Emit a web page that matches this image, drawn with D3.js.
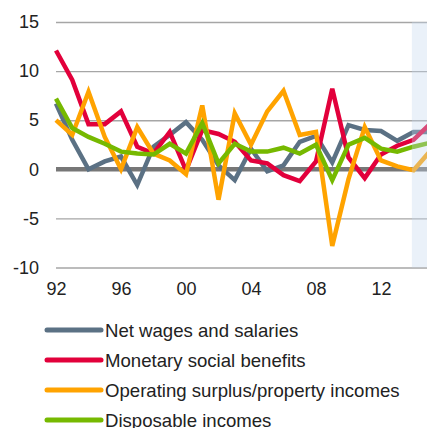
<!DOCTYPE html>
<meta charset="utf-8">
<body style="margin:0">
<div id="div-svg"></div>
<style>
  body { background: #fff; }
  text { font-family: "Liberation Sans", Arial, sans-serif; fill: #222; }
</style>

<script src="https://d3js.org/d3.v7.min.js"></script>
<script>
    var years = d3.range(1992, 2016);
    var yTicks = [15, 10, 5, 0, -5, -10];
    var xTicks = [1992, 1996, 2000, 2004, 2008, 2012];
    var forecastFrom = 2013.9;

    var wages = [6.7, 3.0, 0.0, 0.8, 1.3, -1.6, 2.3, 3.5, 4.8, 3.0, 0.4, -1.1, 2.1, -0.2, 0.4, 2.8, 3.4, 0.7, 4.5, 4.0, 3.9, 2.9, 3.8, 3.8];
    var benefits = [12.1, 9.1, 4.6, 4.6, 5.9, 2.3, 1.6, 3.8, -0.1, 4.0, 3.6, 2.8, 0.9, 0.6, -0.6, -1.2, 0.8, 8.2, 1.2, -0.9, 1.5, 2.4, 3.0, 4.6];
    var surplus = [5.0, 3.5, 7.9, 3.3, 0.0, 4.3, 1.6, 0.9, -0.5, 6.5, -3.1, 5.7, 2.5, 5.9, 8.0, 3.5, 3.8, -7.8, -1.0, 4.3, 0.9, 0.3, -0.1, 1.8];
    var disposable = [7.2, 4.2, 3.3, 2.6, 1.8, 1.6, 1.5, 2.6, 1.6, 4.7, 0.6, 2.6, 1.8, 1.8, 2.2, 1.6, 2.5, -1.1, 2.5, 3.2, 2.1, 1.8, 2.3, 2.7];

    var seriesNames = ["Net wages and salaries", "Monetary social benefits", "Operating surplus/property incomes", "Disposable incomes"];
    var seriesValues = [wages, benefits, surplus, disposable];
    var colors = ["#5b7184", "#e2003b", "#ffa300", "#76b900"];

    var width = 427;
    var height = 428;

    var x = d3.scaleLinear().domain([1992, 2015]).range([56, 429.75]);
    var y = d3.scaleLinear().domain([-10, 15]).range([267.5, 22]);

    var svg = d3.select("#div-svg").append("svg")
        .attr("width", width)
        .attr("height", height);

    // gridlines + y labels
    var yAxis = svg.append("g")
        .attr("transform", "translate(56,0)")
        .call(d3.axisLeft(y).tickValues(yTicks).tickSize(-(width - 56)).tickPadding(17)
            .tickFormat(function(d){ return String(d); }));
    yAxis.select(".domain").remove();
    yAxis.selectAll(".tick line").attr("stroke", "#a6a6a6").attr("stroke-width", 1.4);
    yAxis.selectAll(".tick text").style("font-size", "18px").attr("fill", "#222");

    // zero line
    svg.append("line")
        .attr("x1", 56).attr("x2", width)
        .attr("y1", y(0)).attr("y2", y(0))
        .attr("stroke", "#777").attr("stroke-width", 4.5);

    // x labels
    var xAxis = svg.append("g")
        .attr("transform", "translate(0,282)")
        .call(d3.axisBottom(x).tickValues(xTicks).tickSize(0).tickPadding(0)
            .tickFormat(function(d){ return d3.format("02d")(d % 100); }));
    xAxis.select(".domain").remove();
    xAxis.selectAll(".tick text").style("font-size", "18px").attr("dy", "0.71em").attr("fill", "#222");

    var line = d3.line()
        .x(function(d, i){ return x(years[i]); })
        .y(function(d){ return y(d); });

    svg.selectAll("path.series")
      .data(seriesValues)
      .enter()
      .append("path")
      .attr("class", "series")
      .attr("d", line)
      .attr("fill", "none")
      .attr("stroke", function(d, i){ return colors[i]; })
      .attr("stroke-width", 4.5)
      .attr("stroke-linejoin", "miter");

    // forecast shading over the lines
    svg.append("rect")
        .attr("x", x(forecastFrom))
        .attr("y", y(15))
        .attr("width", width - x(forecastFrom))
        .attr("height", y(-10) - y(15))
        .attr("fill", "#c4d8ef")
        .attr("opacity", 0.35);

    // legend
    var legend = svg.selectAll("g.legend")
      .data(seriesNames)
      .enter()
      .append("g")
      .attr("class", "legend")
      .attr("transform", function(d, i){ return "translate(0," + (330 + i * 30) + ")"; });

    legend.append("line")
      .attr("x1", 47).attr("x2", 101)
      .attr("stroke", function(d, i){ return colors[i]; })
      .attr("stroke-width", 5)
      .attr("stroke-linecap", "round");

    legend.append("text")
      .attr("x", 105)
      .attr("dy", "0.36em")
      .style("font-size", "18.6px")
      .text(function(d){ return d; });
</script>
</body>
